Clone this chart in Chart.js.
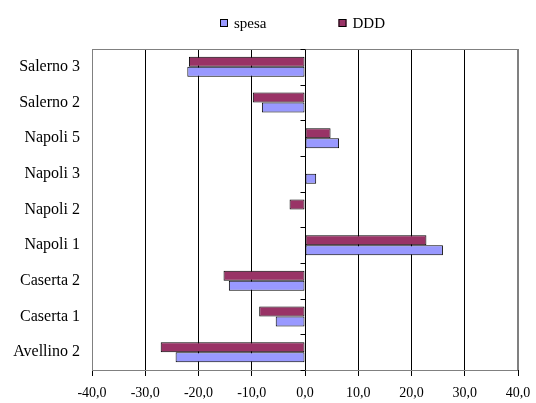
<!DOCTYPE html>
<html>
<head>
<meta charset="utf-8">
<script src="https://cdn.jsdelivr.net/npm/chart.js@4"></script>
<style>
  html, body { margin: 0; padding: 0; background: #fff; }
  #wrap { width: 536px; height: 403px; }
</style>
</head>
<body>
<div id="wrap"><canvas id="myChart"></canvas></div>
<script>
const categories = ['Salerno 3', 'Salerno 2', 'Napoli 5', 'Napoli 3', 'Napoli 2', 'Napoli 1', 'Caserta 2', 'Caserta 1', 'Avellino 2'];
const spesa = [-22.1, -8.1, 6.4, 2.1, 0.2, 25.9, -14.3, -5.5, -24.3];
const ddd = [-21.8, -9.8, 4.8, 0.2, -2.9, 22.8, -15.3, -8.6, -27.1];
const xTicks = [-40, -30, -20, -10, 0, 10, 20, 30, 40];

const serif = 'Liberation Serif';

// plot frame + little ticks on the category axis at the zero line (Excel style)
const zeroTicks = {
  id: 'zeroTicks',
  beforeDatasetsDraw(chart) {
    const { ctx, chartArea, scales } = chart;
    ctx.save();
    ctx.strokeStyle = '#808080';
    ctx.lineWidth = 1;
    ctx.strokeRect(chartArea.left + 0.5, chartArea.top + 0.5, chartArea.width - 1, chartArea.height);
    const x0 = Math.round(scales.x.getPixelForValue(0)) + 0.5;
    const step = chartArea.height / categories.length;
    ctx.strokeStyle = '#000';
    for (let i = 0; i <= categories.length; i++) {
      const y = Math.round(chartArea.top + i * step) + 0.5;
      ctx.beginPath();
      ctx.moveTo(x0 - 5, y);
      ctx.lineTo(x0, y);
      ctx.stroke();
    }
    ctx.restore();
  }
};

// legend over the plot area, wide gap between the two entries
const topLegend = {
  id: 'topLegend',
  afterDraw(chart) {
    const { ctx, chartArea } = chart;
    const items = chart.data.datasets.slice().reverse();
    const box = 8, gap = 6, between = 72;
    ctx.save();
    ctx.font = '15px "' + serif + '"';
    ctx.textBaseline = 'middle';
    const widths = items.map(d => box + gap + ctx.measureText(d.label).width);
    const total = widths.reduce((a, b) => a + b, 0) + between * (items.length - 1);
    let x = Math.round((chartArea.left + chartArea.right) / 2 - total / 2) - 3;
    const y = 23;
    items.forEach((d, i) => {
      ctx.fillStyle = d.backgroundColor;
      ctx.fillRect(x, y - box / 2, box, box);
      ctx.strokeStyle = '#000';
      ctx.lineWidth = 1;
      ctx.strokeRect(x + 0.5, y - box / 2 + 0.5, box - 1, box - 1);
      ctx.fillStyle = '#000';
      ctx.fillText(d.label, x + box + gap, y + 1);
      x += widths[i] + between;
    });
    ctx.restore();
  }
};

const ctx = document.getElementById('myChart');
new Chart(ctx, {
  type: 'bar',
  data: {
    labels: categories,
    datasets: [
      {
        label: 'DDD',
        data: ddd,
        backgroundColor: '#993366',
        borderColor: '#000',
        borderWidth: 1,
        borderSkipped: false
      },
      {
        label: 'spesa',
        data: spesa,
        backgroundColor: '#9999FF',
        borderColor: '#000',
        borderWidth: 1,
        borderSkipped: false
      }
    ]
  },
  options: {
    indexAxis: 'y',
    responsive: true,
    maintainAspectRatio: false,
    animation: false,
    categoryPercentage: 0.56,
    barPercentage: 1,
    layout: { padding: { left: 0, right: 18, top: 49, bottom: 0 } },
    plugins: {
      tooltip: { enabled: false },
      legend: { display: false }
    },
    scales: {
      x: {
        min: -40,
        max: 40,
        afterBuildTicks(scale) {
          scale.ticks = xTicks.map(v => ({ value: v }));
        },
        ticks: {
          color: '#000',
          padding: 9,
          maxRotation: 0,
          font: { family: serif, size: 14 },
          callback: v => v.toFixed(1).replace('.', ',')
        },
        grid: {
          color: c => (c.tick && Math.abs(c.tick.value) === 40) ? '#808080' : '#000',
          tickColor: '#000',
          tickLength: 6
        },
        border: { color: '#000' },
        afterFit(scale) {
          scale.height = 33;
          scale.paddingLeft = 0;
          scale.paddingRight = 0;
        }
      },
      y: {
        ticks: {
          color: '#000',
          padding: 12,
          font: { family: serif, size: 16 }
        },
        grid: { display: false, drawTicks: false },
        border: { color: '#808080' },
        afterFit(scale) { scale.width = 92; }
      }
    }
  },
  plugins: [zeroTicks, topLegend]
});
</script>
</body>
</html>
